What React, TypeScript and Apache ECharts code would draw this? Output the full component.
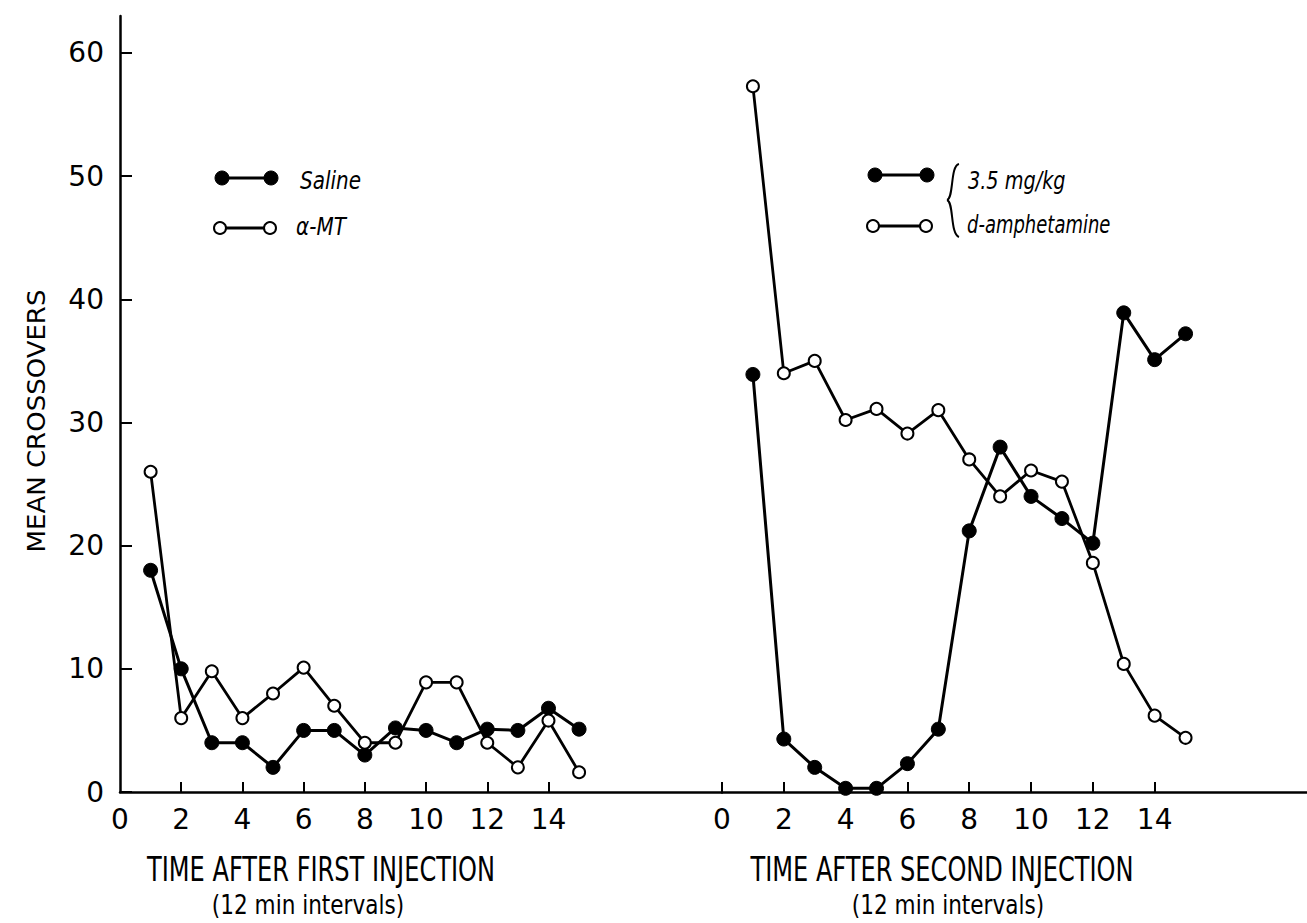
import React, { useEffect, useRef } from "react";
import * as echarts from "echarts";

// ---- data ----
const intervals = [1, 2, 3, 4, 5, 6, 7, 8, 9, 10, 11, 12, 13, 14, 15];
const salineY = [18, 10, 4, 4, 2, 5, 5, 3, 5.2, 5, 4, 5.1, 5, 6.8, 5.1];
const alphaMtY = [26, 6, 9.8, 6, 8, 10.1, 7, 4, 4, 8.9, 8.9, 4, 2, 5.8, 1.6];
const ampFilledY = [33.9, 4.3, 2, 0.3, 0.3, 2.3, 5.1, 21.2, 28, 24, 22.2, 20.2, 38.9, 35.1, 37.2];
const ampOpenY = [57.3, 34, 35, 30.2, 31.1, 29.1, 31, 27, 24, 26.1, 25.2, 18.6, 10.4, 6.2, 4.4];

const xLabelValues = [0, 2, 4, 6, 8, 10, 12, 14];
const xTicksLeft = [2, 4, 6, 8, 10, 12, 14];
const xTicksRight = [0, 2, 4, 6, 8, 10, 12, 14];
const yValues = [0, 10, 20, 30, 40, 50, 60];

const FONT = "'DejaVu Sans', sans-serif";
const BLACK = "#000";

const zip = (xs: number[], ys: number[]) => xs.map((x, i) => [x, ys[i]]);

const filledStyle = (name: string, data: number[][], idx: number) => ({
  name,
  type: "line",
  xAxisIndex: idx,
  yAxisIndex: idx,
  data,
  symbol: "circle",
  symbolSize: 14,
  clip: false,
  lineStyle: { color: BLACK, width: 3 },
  itemStyle: { color: BLACK, borderColor: BLACK, borderWidth: 1 },
  z: 3,
});
const openStyle = (name: string, data: number[][], idx: number) => ({
  name,
  type: "line",
  xAxisIndex: idx,
  yAxisIndex: idx,
  data,
  symbol: "circle",
  symbolSize: 12,
  clip: false,
  lineStyle: { color: BLACK, width: 2.8 },
  itemStyle: { color: "#fff", borderColor: BLACK, borderWidth: 2 },
  z: 4,
});

const xAxisBase = (grid: number, max: number, ticks: number[]) => ({
  type: "value",
  gridIndex: grid,
  min: 0,
  max,
  axisLine: { show: true, lineStyle: { color: BLACK, width: 2.5 } },
  axisTick: { show: true, inside: true, length: 10, customValues: ticks, lineStyle: { color: BLACK, width: 2 } },
  axisLabel: {
    show: true,
    customValues: xLabelValues,
    margin: 13,
    color: BLACK,
    fontSize: 28,
    fontFamily: FONT,
    formatter: (v: number) => String(v),
  },
  splitLine: { show: false },
});

const txt = (text: string, x: number, y: number, size: number, scaleX: number, extra: any = {}) => ({
  type: "text",
  x,
  y,
  scaleX,
  style: {
    text,
    fill: BLACK,
    font: `${extra.italic ? "italic " : ""}${size}px ${FONT}`,
    textAlign: extra.align || "center",
    textVerticalAlign: "middle",
  },
  ...(extra.rotation ? { rotation: extra.rotation } : {}),
});

export default function App() {
  const ref = useRef<HTMLDivElement>(null);
  useEffect(() => {
    if (!ref.current) return;
    const chart = echarts.init(ref.current, undefined, { renderer: "svg" });
    const legendSeg = (x1: number, x2: number, y: number, filled: boolean) => ({
      type: "group",
      children: [
        { type: "line", shape: { x1, y1: y, x2, y2: y }, style: { stroke: BLACK, lineWidth: 3 } },
        { type: "circle", shape: { cx: x1, cy: y, r: filled ? 7 : 6 }, style: { fill: filled ? BLACK : "#fff", stroke: BLACK, lineWidth: filled ? 1 : 2 } },
        { type: "circle", shape: { cx: x2, cy: y, r: filled ? 7 : 6 }, style: { fill: filled ? BLACK : "#fff", stroke: BLACK, lineWidth: filled ? 1 : 2 } },
      ],
    });
    chart.setOption({
      animation: false,
      backgroundColor: "#fff",
      grid: [
        { left: 120, top: 16, width: 602, height: 776 },
        { left: 722, top: 16, width: 585, height: 776 },
      ],
      xAxis: [xAxisBase(0, 19.67, xTicksLeft), xAxisBase(1, 18.93, xTicksRight)],
      yAxis: [
        {
          type: "value",
          gridIndex: 0,
          min: 0,
          max: 63,
          axisLine: { show: true, lineStyle: { color: BLACK, width: 2.5 } },
          axisTick: { show: true, inside: true, length: 12, customValues: yValues, lineStyle: { color: BLACK, width: 2 } },
          axisLabel: {
            show: true,
            customValues: yValues,
            margin: 16,
            color: BLACK,
            fontSize: 28,
            fontFamily: FONT,
          },
          splitLine: { show: false },
        },
        { type: "value", gridIndex: 1, min: 0, max: 63, show: false },
      ],
      series: [
        filledStyle("Saline", zip(intervals, salineY), 0),
        openStyle("α-MT", zip(intervals, alphaMtY), 0),
        filledStyle("3.5 mg/kg", zip(intervals, ampFilledY), 1),
        openStyle("d-amphetamine", zip(intervals, ampOpenY), 1),
      ],
      graphic: [
        txt("MEAN CROSSOVERS", 36, 421, 25, 1.04, { rotation: Math.PI / 2 }),
        txt("TIME AFTER FIRST INJECTION", 321, 870, 33, 0.73),
        txt("(12 min intervals)", 308, 905, 27, 0.8),
        txt("TIME AFTER SECOND INJECTION", 942, 870, 33, 0.73),
        txt("(12 min intervals)", 948, 905, 27, 0.8),
        legendSeg(222, 271, 178, true),
        legendSeg(220, 270, 228, false),
        txt("Saline", 300, 180, 25, 0.8, { italic: true, align: "left" }),
        txt("α-MT", 296, 226, 25, 0.8, { italic: true, align: "left" }),
        legendSeg(875, 927, 175, true),
        legendSeg(873, 926, 226, false),
        {
          type: "bezierCurve",
          shape: { x1: 959, y1: 164, cpx1: 950, cpy1: 166, cpx2: 954, cpy2: 198, x2: 947, y2: 200 },
          style: { stroke: BLACK, lineWidth: 2, fill: "none" },
        },
        {
          type: "bezierCurve",
          shape: { x1: 947, y1: 200, cpx1: 954, cpy1: 202, cpx2: 950, cpy2: 234, x2: 959, y2: 237 },
          style: { stroke: BLACK, lineWidth: 2, fill: "none" },
        },
        txt("3.5 mg/kg", 968, 180, 25, 0.77, { italic: true, align: "left" }),
        txt("d-amphetamine", 967, 224, 25, 0.72, { italic: true, align: "left" }),
      ],
    });
    return () => chart.dispose();
  }, []);
  return <div ref={ref} style={{ position: "absolute", left: 0, top: 0, width: 1307, height: 923 }} />;
}
